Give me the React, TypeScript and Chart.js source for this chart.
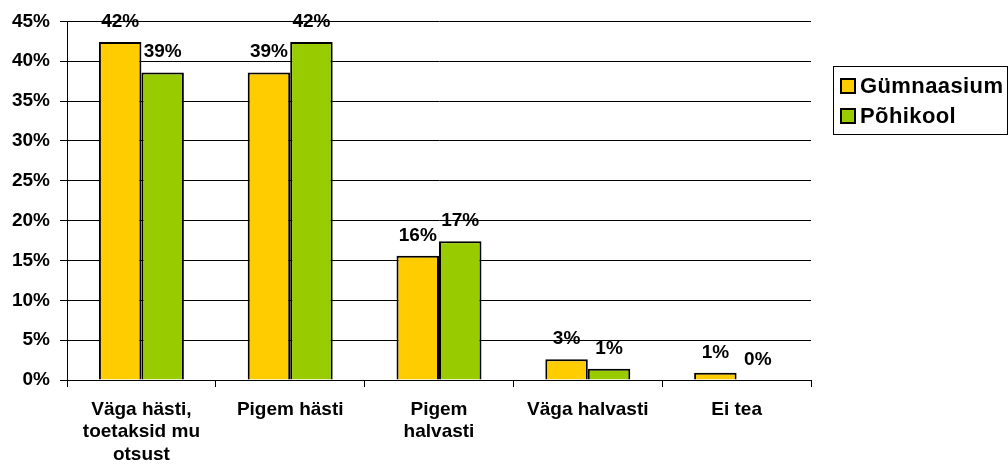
import React, { useEffect, useRef } from "react";
import { Chart, registerables } from "chart.js";

Chart.register(...registerables);

const categories: (string | string[])[] = [
  ["Väga hästi,", "toetaksid mu", "otsust"],
  "Pigem hästi",
  ["Pigem", "halvasti"],
  "Väga halvasti",
  "Ei tea",
];
const gymnasium = [42.4, 38.6, 15.6, 2.6, 0.9];
const basicSchool = [38.6, 42.4, 17.4, 1.4, 0];
const seriesNames = ["Gümnaasium", "Põhikool"];
const seriesColors = ["#FFCC00", "#99CC00"];

const FONT = "'Liberation Sans', Arial, sans-serif";

const valueLabels = {
  id: "valueLabels",
  afterDatasetsDraw(chart: any) {
    const ctx = chart.ctx;
    ctx.save();
    ctx.font = `bold 19px ${FONT}`;
    ctx.fillStyle = "#000";
    ctx.textAlign = "center";
    ctx.textBaseline = "alphabetic";
    chart.data.datasets.forEach((ds: any, di: number) => {
      const meta = chart.getDatasetMeta(di);
      meta.data.forEach((el: any, i: number) => {
        const v = ds.data[i];
        ctx.fillText(Math.round(v) + "%", el.x, el.y - 15);
      });
    });
    ctx.restore();
  },
};

const boxLegend = {
  id: "boxLegend",
  afterDraw(chart: any) {
    const ctx = chart.ctx;
    ctx.save();
    ctx.strokeStyle = "#000";
    ctx.lineWidth = 1;
    ctx.strokeRect(833.5, 66.5, 174, 68);
    ctx.font = `bold 22px ${FONT}`;
    (ctx as any).letterSpacing = "0.4px";
    ctx.textAlign = "left";
    ctx.textBaseline = "middle";
    chart.data.datasets.forEach((ds: any, i: number) => {
      const cy = 86 + i * 30;
      ctx.fillStyle = ds.backgroundColor;
      ctx.fillRect(840, cy - 8, 16, 16);
      ctx.lineWidth = 2;
      ctx.strokeRect(841, cy - 7, 14, 14);
      ctx.fillStyle = "#000";
      ctx.fillText(ds.label, 860, cy + 1);
    });
    ctx.restore();
  },
};

export default function App() {
  const ref = useRef<HTMLCanvasElement>(null);
  useEffect(() => {
    document.body.style.margin = "0";
    document.body.style.background = "#fff";
    const chart = new Chart(ref.current!, {
      type: "bar",
      data: {
        labels: categories,
        datasets: [
          {
            label: seriesNames[0],
            data: gymnasium,
            backgroundColor: seriesColors[0],
            borderColor: "#000",
            borderWidth: 2,
          },
          {
            label: seriesNames[1],
            data: basicSchool,
            backgroundColor: seriesColors[1],
            borderColor: "#000",
            borderWidth: 2,
          },
        ],
      },
      options: {
        responsive: false,
        animation: false,
        devicePixelRatio: 1,
        layout: { padding: { top: 17, right: 197, left: 0, bottom: 0 } },
        datasets: {
          bar: { categoryPercentage: 0.571, barPercentage: 1 },
        },
        plugins: {
          legend: { display: false },
          tooltip: { enabled: false },
        },
        scales: {
          x: {
            afterFit: (s: any) => {
              s.height = 91;
            },
            grid: {
              offset: true,
              drawOnChartArea: false,
              drawTicks: true,
              tickLength: 7,
              tickColor: "#000",
              color: "#000",
            },
            border: { display: true, color: "#000", width: 1 },
            ticks: {
              color: "#000",
              font: { family: FONT, size: 19, weight: "bold", lineHeight: 1.2 },
              padding: 11,
              maxRotation: 0,
              autoSkip: false,
            },
          },
          y: {
            min: 0,
            max: 45,
            afterFit: (s: any) => {
              s.width = 67;
            },
            grid: {
              color: "#000",
              lineWidth: 1,
              drawTicks: true,
              tickLength: 7,
              tickColor: "#000",
            },
            border: { display: true, color: "#000", width: 1 },
            ticks: {
              stepSize: 5,
              color: "#000",
              padding: 10,
              font: { family: FONT, size: 19, weight: "bold" },
              callback: (v: any) => v + "%",
            },
          },
        },
      },
      plugins: [valueLabels, boxLegend],
    });
    return () => chart.destroy();
  }, []);
  return (
    <div style={{ position: "fixed", left: 0, top: 0, width: 1008, height: 471, background: "#fff" }}>
      <canvas ref={ref} width={1008} height={471} style={{ width: 1008, height: 471 }} />
    </div>
  );
}
